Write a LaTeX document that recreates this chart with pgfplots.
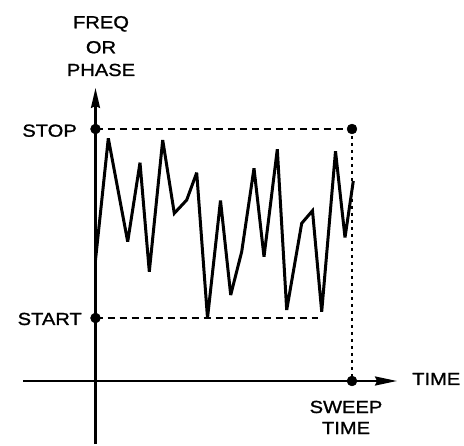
\documentclass[border=0pt]{standalone}
\usepackage{fontspec}
\setmainfont[FakeStretch=1.15,FakeBold=1.2]{Liberation Sans}
\usepackage{pgfplots}
\pgfplotsset{compat=1.18}
\usetikzlibrary{arrows.meta}
\newcommand{\lab}{\fontsize{17.5bp}{21bp}\selectfont}
\begin{document}
\begin{tikzpicture}
\begin{axis}[
  scale only axis, width=464bp, height=444bp,
  xmin=-95.5, xmax=368.5, ymin=-63, ymax=381,
  hide axis, clip=false,
]
\path (rel axis cs:0,0) rectangle (rel axis cs:1,1);
% axes
\addplot[black, line width=2.2bp, -{Stealth[length=20bp,width=9bp,inset=2bp]}] coordinates {(0,-63) (0,293)};
\addplot[black, line width=2.2bp, -{Stealth[length=22bp,width=9bp,inset=2bp]}] coordinates {(-72.5,0) (301.5,0)};
% stop / start guides
\addplot[black, line width=2bp, dash pattern=on 7bp off 5bp] coordinates {(0,252) (256.5,252)};
\addplot[black, line width=2bp, dash pattern=on 7bp off 5bp] coordinates {(0,63) (222,63)};
\addplot[black, line width=2.2bp, dash pattern=on 3bp off 4bp] coordinates {(256.5,252) (256.5,0)};
% signal
\addplot[black, line width=3bp, line join=miter, miter limit=4] coordinates {
(0,121) (12.8,242.7) (32.2,139.3) (44.5,218.3) (53.8,109.3) (67.2,241)
(78.8,167.7) (91.2,181) (101.2,208.3) (112,63) (125,180.5) (135.2,86)
(146.2,129.3) (158.5,212.7) (168.5,124.3) (181.8,231.7) (191.2,71)
(206.2,157.7) (217,170.3) (226.2,69.3) (240,229.7) (249.5,143.5) (257.8,200)
};
% dots
\addplot[only marks, mark=*, mark size=5pt, black] coordinates {(0,252) (256.5,252) (0,63) (256.5,0)};
% labels
\node[anchor=base, inner sep=0pt, font=\lab] at (axis cs:5.5,352.7) {FREQ};
\node[anchor=base, inner sep=0pt, font=\lab] at (axis cs:5.5,327.7) {OR};
\node[anchor=base, inner sep=0pt, font=\lab] at (axis cs:5.5,305) {PHASE};
\node[anchor=base east, inner sep=0pt, font=\lab] at (axis cs:-18.5,244.3) {STOP};
\node[anchor=base east, inner sep=0pt, font=\lab] at (axis cs:-13.5,56) {START};
\node[anchor=base west, inner sep=0pt, font=\lab] at (axis cs:316.5,-4) {TIME};
\node[anchor=base, inner sep=0pt, font=\lab] at (axis cs:250.5,-32) {SWEEP};
\node[anchor=base, inner sep=0pt, font=\lab] at (axis cs:250.5,-53) {TIME};
\end{axis}
\end{tikzpicture}
\end{document}
